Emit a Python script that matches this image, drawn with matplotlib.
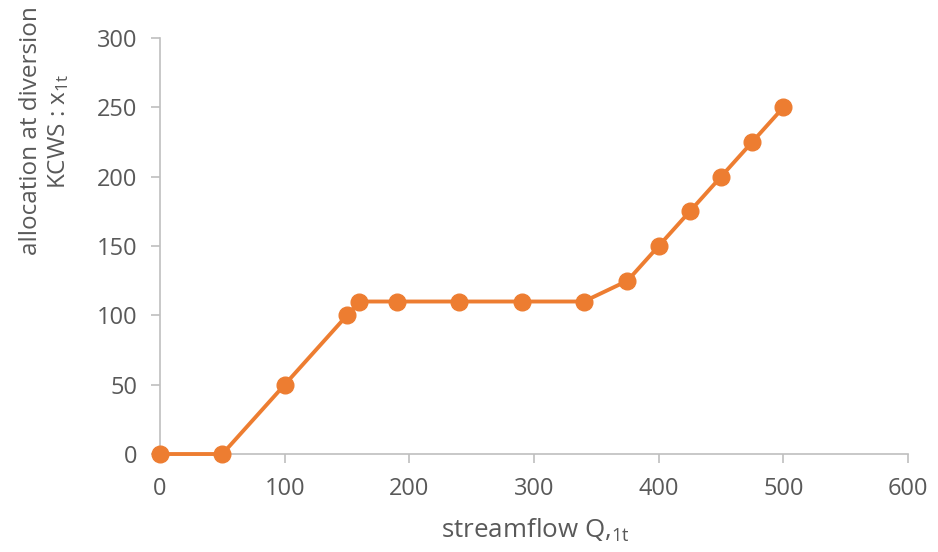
import matplotlib.pyplot as plt

plt.rcParams['font.family'] = ['Open Sans', 'DejaVu Sans']
plt.rcParams['mathtext.fontset'] = 'custom'
plt.rcParams['mathtext.rm'] = 'Open Sans'
plt.rcParams['mathtext.it'] = 'Open Sans'

streamflow = [0, 50, 100, 150, 160, 190, 240, 290, 340, 375, 400, 425, 450, 475, 500]
allocation = [0, 0, 50, 100, 110, 110, 110, 110, 110, 125, 150, 175, 200, 225, 250]

grey = '#595959'
axis_grey = '#bfbfbf'

fig = plt.figure(figsize=(9.38, 5.52), dpi=100)
ax = fig.add_axes([0.1706, 0.1775, 0.7974, 0.7535])

ax.plot(streamflow, allocation, color='#ED7D31', linewidth=2.8,
        marker='o', markersize=12, clip_on=False, zorder=3)

ax.set_xlim(0, 600)
ax.set_ylim(0, 300)
ax.set_xticks(range(0, 601, 100))
ax.set_yticks(range(0, 301, 50))

for s in ['top', 'right']:
    ax.spines[s].set_visible(False)
for s in ['left', 'bottom']:
    ax.spines[s].set_color(axis_grey)
    ax.spines[s].set_linewidth(1.2)

ax.tick_params(axis='both', colors=axis_grey, labelcolor=grey, labelsize=17,
               length=6.5, width=1.2, direction='out')
ax.tick_params(axis='y', pad=10)
ax.tick_params(axis='x', pad=10)

# x label, a bit below the tick labels
fig.text(535 / 938, 1 - 530 / 552, 'streamflow Q,$_{\\mathregular{1t}}$', fontsize=18.7,
         color=grey, ha='center', va='center')
# y label sits high up, like the excel original
fig.text(45 / 938, 1 - 131 / 552, 'allocation at diversion\nKCWS : x$_{\\mathregular{1t}}$',
         fontsize=17.5, color=grey, rotation=90, ha='center', va='center',
         multialignment='center', linespacing=1.15)

fig.savefig('out.png', dpi=100)
